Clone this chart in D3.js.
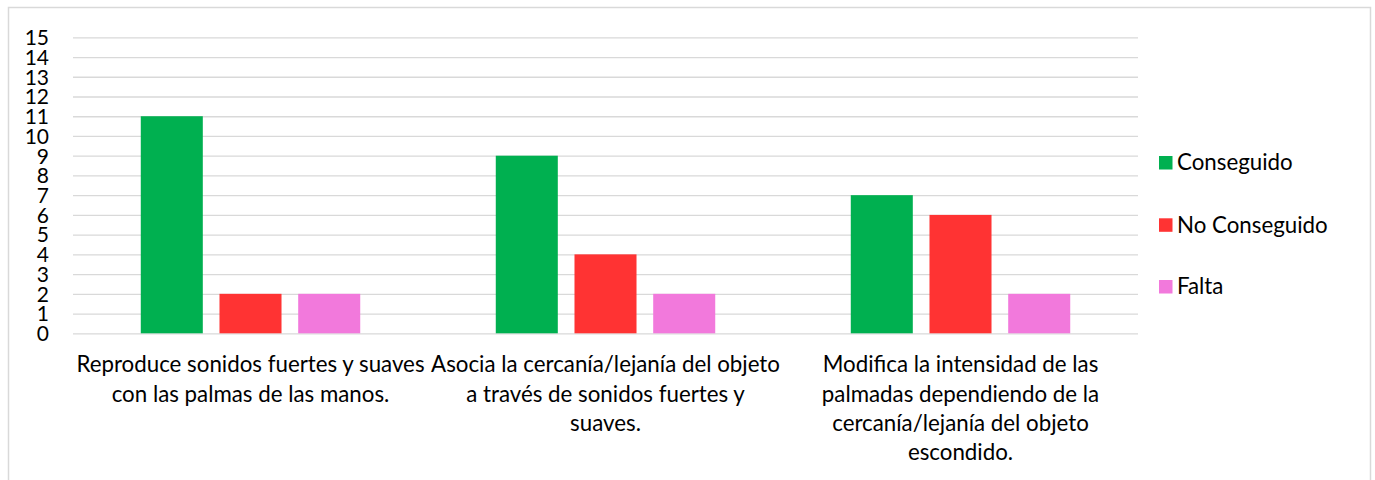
<!DOCTYPE html>
<html>
<head>
<meta charset="utf-8">
<script src="https://cdn.jsdelivr.net/npm/d3@7"></script>
<style>
body{margin:0;background:#fff;}
svg text{font-family:Lato,"Open Sans",sans-serif;fill:#000;}
</style>
</head>
<body>
<svg width="1375" height="480"></svg>
<script>
var categories=[
  ["Reproduce sonidos fuertes y suaves","con las palmas de las manos."],
  ["Asocia la cercanía/lejanía del objeto","a través de sonidos fuertes y","suaves."],
  ["Modifica la intensidad de las","palmadas dependiendo de la","cercanía/lejanía del objeto","escondido."]
];
var seriesNames=["Conseguido","No Conseguido","Falta"];
var conseguido=[11,9,7];
var noConseguido=[2,4,6];
var falta=[2,2,2];
var yTicks=d3.range(0,16);

var colors=["#00B050","#FF3333","#F279DC"];
var series=[conseguido,noConseguido,falta];

var svg=d3.select("svg");
var plotLeft=73,plotRight=1138,plotTop=37.3,plotBottom=333.3;
var fs=22.3;

svg.append("rect")
  .attr("x",8.5).attr("y",7.5)
  .attr("width",1362).attr("height",480)
  .attr("fill","none").attr("stroke","#d9d9d9").attr("stroke-width",1.5);

var y=d3.scaleLinear().domain([0,15]).range([plotBottom,plotTop]);
var x0=d3.scaleBand().domain(d3.range(categories.length)).range([plotLeft,plotRight]).padding(0);
var x1=d3.scaleBand().domain(d3.range(series.length)).range([0,x0.bandwidth()])
  .paddingInner(0.212).paddingOuter(0.861);

// gridlines + y labels
var yaxis=d3.axisLeft(y).tickValues(yTicks).tickSize(-(plotRight-plotLeft)).tickSizeOuter(0);
var gy=svg.append("g").attr("transform","translate("+plotLeft+",0)").call(yaxis);
gy.select(".domain").remove();
gy.selectAll(".tick line").attr("stroke","#d9d9d9").attr("stroke-width",1.3);
gy.selectAll(".tick text").attr("font-size",21).attr("dy","0.35em").attr("x",-24).attr("fill","#000")
  .attr("font-family","Lato,'Open Sans',sans-serif");

// bars
var groups=svg.selectAll("g.cat").data(categories).enter().append("g")
  .attr("class","cat")
  .attr("transform",function(d,i){return "translate("+x0(i)+",0)";});

groups.selectAll("rect").data(function(d,i){return series.map(function(s,j){return {s:j,v:s[i]};});})
  .enter().append("rect")
  .attr("x",function(d){return x1(d.s);})
  .attr("width",x1.bandwidth())
  .attr("y",function(d){return y(d.v);})
  .attr("height",function(d){return y(0)-y(d.v);})
  .attr("fill",function(d){return colors[d.s];});

// category labels
groups.each(function(lines){
  var t=d3.select(this).append("text")
    .attr("text-anchor","middle")
    .attr("font-size",fs)
    .attr("x",x0.bandwidth()/2)
    .attr("y",372.3);
  t.selectAll("tspan").data(lines).enter().append("tspan")
    .attr("x",x0.bandwidth()/2)
    .attr("dy",function(d,i){return i==0?0:29.3;})
    .text(function(d){return d;});
});

// legend
var legendY=[162.7,225,286.7];
var lg=svg.selectAll("g.leg").data(seriesNames).enter().append("g")
  .attr("class","leg")
  .attr("transform",function(d,i){return "translate(1159,"+legendY[i]+")";});
lg.append("rect").attr("x",0).attr("y",-6.7).attr("width",13.5).attr("height",13.5)
  .attr("fill",function(d,i){return colors[i];});
lg.append("text").attr("x",18).attr("dy","0.34em").attr("font-size",fs).text(function(d){return d;});
</script>
</body>
</html>
